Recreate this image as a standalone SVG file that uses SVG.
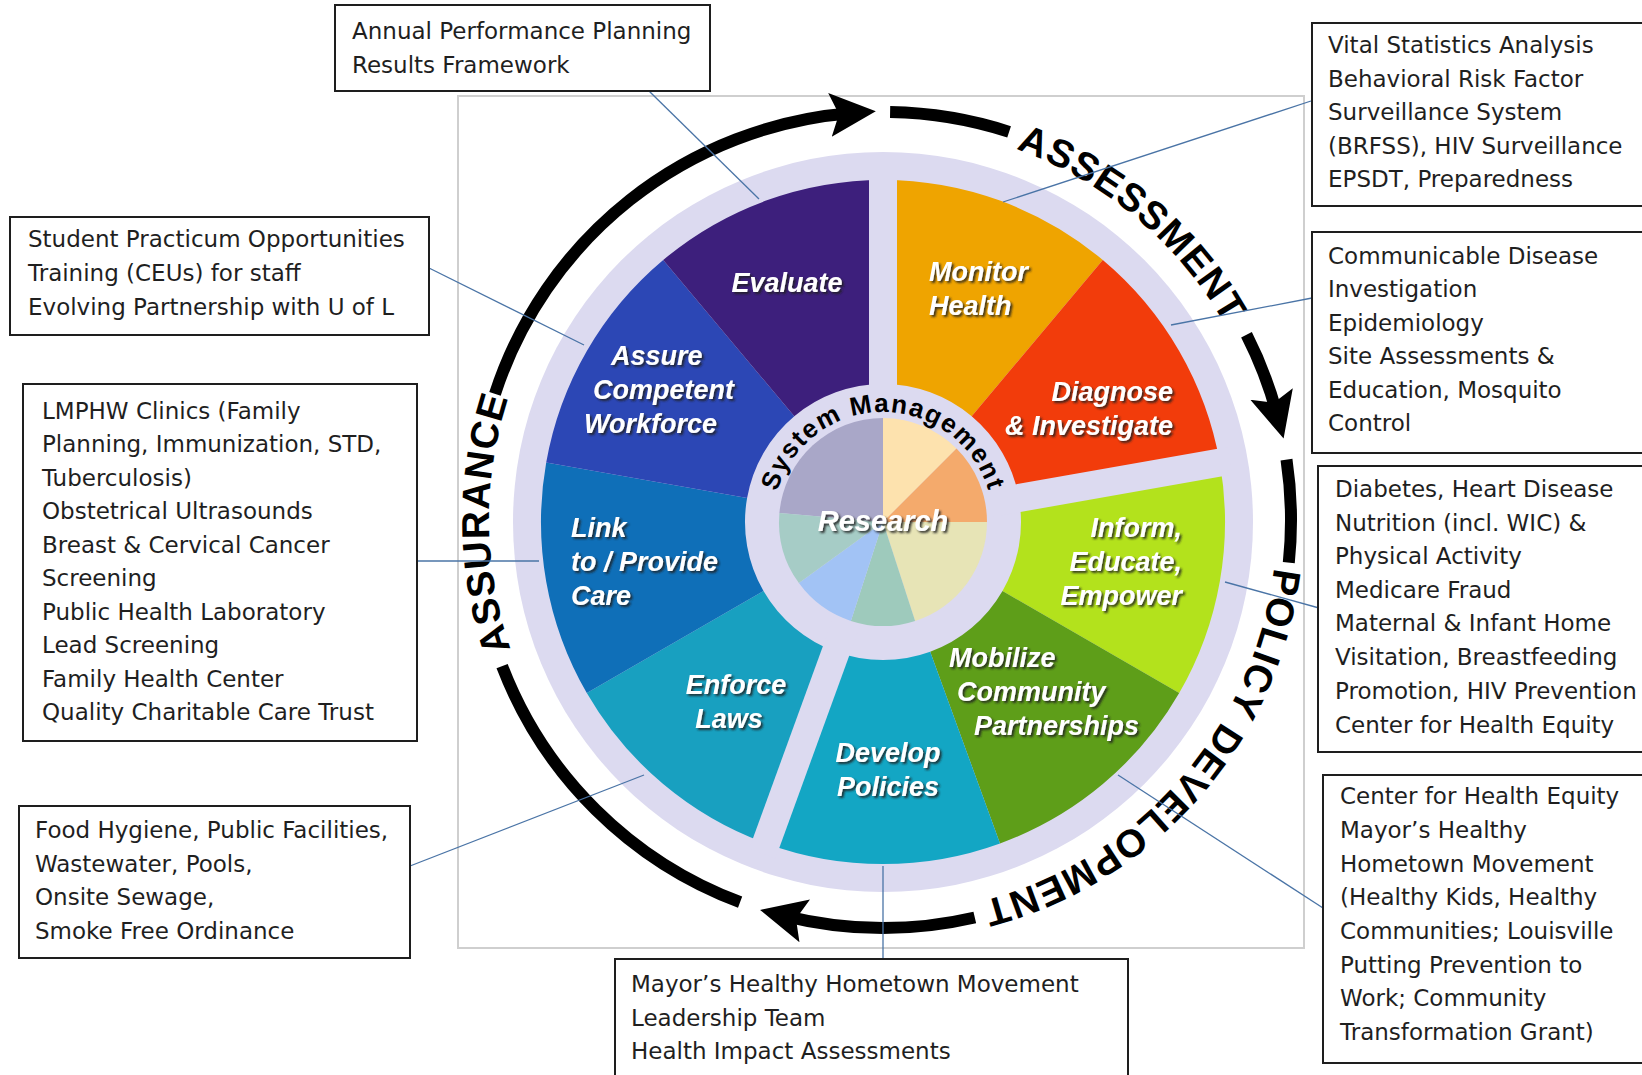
<svg xmlns="http://www.w3.org/2000/svg" width="1642" height="1075" viewBox="0 0 1642 1075">
<defs>
<style>
.box{fill:#fff;stroke:#1e1e1e;stroke-width:2}
.bt{font-family:"DejaVu Sans","Liberation Sans",sans-serif;font-size:23px;fill:#1f1f1f}
.wl{font-family:"Liberation Sans",Arial,sans-serif;font-weight:bold;font-style:italic;font-size:27px;fill:#fff}
.ring{font-family:"Liberation Sans",Arial,sans-serif;font-weight:bold;font-size:39px;fill:#000;letter-spacing:1px}
.arc{fill:none;stroke:#000;stroke-width:12}
.conn{stroke:#4a74a6;stroke-width:1.3;fill:none}
.gap{stroke:#dcdaf0;stroke-width:28}
</style>
<filter id="sh" x="-5%" y="-5%" width="110%" height="110%"><feDropShadow dx="2" dy="2" stdDeviation="0.8" flood-color="#1a1a1a" flood-opacity="0.85"/></filter>
<marker id="ah" markerUnits="userSpaceOnUse" markerWidth="50" markerHeight="48" refX="20" refY="22" orient="auto"><path d="M0,0 L46,22 L0,44 L9,22 Z" fill="#000"/></marker>
<path id="pAss" d="M985,139.4 A394,394 0 0 1 1240.1,353.5"/>
<path id="pPol" d="M1277,520 A394,394 0 0 1 924.2,911.8"/>
<path id="pAsr" d="M538.4,711 A394,394 0 0 1 535.1,335"/>
<path id="pSys" d="M773,522 A110,110 0 0 1 993,522"/>
</defs>
<rect x="0" y="0" width="1642" height="1075" fill="#fff"/>
<rect id="frame" x="458" y="96" width="846" height="852" fill="none" stroke="#cfcfcf" stroke-width="2"/>

<g id="wheel">
<circle cx="883" cy="522" r="370" fill="#dcdaf0"/>
<g id="monitor-health"><path d="M883,180 A342,342 0 0 1 1102.8,260 L971.7,416.3 A138,138 0 0 0 883,384 Z" fill="#efa400"/></g>
<g id="diagnose"><path d="M1102.8,260 A342,342 0 0 1 1219.8,462.6 L1018.9,498 A138,138 0 0 0 971.7,416.3 Z" fill="#f23c0b"/></g>
<g id="inform"><path d="M1219.8,462.6 A342,342 0 0 1 1179.2,693 L1002.5,591 A138,138 0 0 0 1018.9,498 Z" fill="#b3e21c"/></g>
<g id="mobilize"><path d="M1179.2,693 A342,342 0 0 1 1000,843.4 L930.2,651.7 A138,138 0 0 0 1002.5,591 Z" fill="#5e9e19"/></g>
<g id="develop"><path d="M1000,843.4 A342,342 0 0 1 766,843.4 L835.8,651.7 A138,138 0 0 0 930.2,651.7 Z" fill="#13a6c4"/></g>
<g id="enforce"><path d="M766,843.4 A342,342 0 0 1 586.8,693 L763.5,591 A138,138 0 0 0 835.8,651.7 Z" fill="#18a0c0"/></g>
<g id="link"><path d="M586.8,693 A342,342 0 0 1 546.2,462.6 L747.1,498 A138,138 0 0 0 763.5,591 Z" fill="#0f6fb8"/></g>
<g id="assure"><path d="M546.2,462.6 A342,342 0 0 1 663.2,260 L794.3,416.3 A138,138 0 0 0 747.1,498 Z" fill="#2c47b5"/></g>
<g id="evaluate"><path d="M663.2,260 A342,342 0 0 1 883,180 L883,384 A138,138 0 0 0 794.3,416.3 Z" fill="#3d1f7c"/></g>
<line class="gap" x1="883" y1="522" x2="883" y2="165"/>
<line class="gap" x1="883" y1="522" x2="1230" y2="460.8"/>
<line class="gap" x1="883" y1="522" x2="762.3" y2="853.6"/>
</g>

<g id="research">
<path d="M883,522 L779.4,512.9 A104,104 0 0 1 883,418 Z" fill="#a9a7c8"/>
<path d="M883,522 L883,418 A104,104 0 0 1 956.5,448.5 Z" fill="#fde2ae"/>
<path d="M883,522 L956.5,448.5 A104,104 0 0 1 987,522 Z" fill="#f4aa6c"/>
<path d="M883,522 L987,522 A104,104 0 0 1 915.1,620.9 Z" fill="#e7e4b6"/>
<path d="M883,522 L915.1,620.9 A104,104 0 0 1 850.9,620.9 Z" fill="#9ecabc"/>
<path d="M883,522 L850.9,620.9 A104,104 0 0 1 798.9,583.1 Z" fill="#a2c3f5"/>
<path d="M883,522 L798.9,583.1 A104,104 0 0 1 779.4,512.9 Z" fill="#a6ccc6"/>
<g filter="url(#sh)"><text class="wl" x="883" y="531" text-anchor="middle" style="font-size:29px">Research</text></g>
</g>

<g id="system-management">
<text font-family="Liberation Sans, Arial, sans-serif" font-weight="bold" font-size="26" letter-spacing="1.5" fill="#000"><textPath href="#pSys" startOffset="50%" text-anchor="middle">System Management</textPath></text>
</g>

<g id="wedge-labels" filter="url(#sh)">
<text class="wl" x="787" y="292" text-anchor="middle">Evaluate</text>
<text class="wl"><tspan x="929" y="281">Monitor</tspan><tspan x="929" y="315">Health</tspan></text>
<text class="wl" text-anchor="end"><tspan x="1173" y="401">Diagnose</tspan><tspan x="1173" y="435">&amp; Investigate</tspan></text>
<text class="wl" text-anchor="end"><tspan x="1182" y="537">Inform,</tspan><tspan x="1182" y="571">Educate,</tspan><tspan x="1182" y="605">Empower</tspan></text>
<text class="wl"><tspan x="949" y="667">Mobilize</tspan><tspan x="957" y="701">Community</tspan><tspan x="974" y="735">Partnerships</tspan></text>
<text class="wl" text-anchor="middle"><tspan x="888" y="762">Develop</tspan><tspan x="888" y="796">Policies</tspan></text>
<text class="wl" text-anchor="middle"><tspan x="736" y="694">Enforce</tspan><tspan x="729" y="728">Laws</tspan></text>
<text class="wl"><tspan x="571" y="537">Link</tspan><tspan x="571" y="571">to / Provide</tspan><tspan x="571" y="605">Care</tspan></text>
<text class="wl"><tspan x="611" y="365">Assure</tspan><tspan x="593" y="399">Competent</tspan><tspan x="584" y="433">Workforce</tspan></text>
</g>

<g id="cycle">
<path class="arc" d="M495,393.9 A408,408 0 0 1 849.9,113.3" marker-end="url(#ah)"/>
<path class="arc" d="M890.1,112.1 A408,408 0 0 1 1009.1,131.9"/>
<path class="arc" d="M1246.5,334.8 A408,408 0 0 1 1276.8,413.4" marker-end="url(#ah)"/>
<path class="arc" d="M1286.5,459.7 A408,408 0 0 1 1288.8,562.6"/>
<path class="arc" d="M974.8,917.5 A408,408 0 0 1 785.3,916.1" marker-end="url(#ah)"/>
<path class="arc" d="M740.1,902.2 A408,408 0 0 1 502.1,666.2"/>
<text class="ring"><textPath href="#pAss" startOffset="50%" text-anchor="middle">ASSESSMENT</textPath></text>
<text class="ring"><textPath href="#pPol" startOffset="48">POLICY</textPath></text>
<text class="ring"><textPath href="#pPol" startOffset="211">DEVELOPMENT</textPath></text>
<text class="ring"><textPath href="#pAsr" startOffset="50%" text-anchor="middle">ASSURANCE</textPath></text>
</g>

<g id="connectors">
<line class="conn" x1="649" y1="91" x2="759" y2="199"/>
<line class="conn" x1="1311" y1="101" x2="1003" y2="202"/>
<line class="conn" x1="429" y1="268" x2="584" y2="345"/>
<line class="conn" x1="1312" y1="298" x2="1171" y2="325"/>
<line class="conn" x1="406" y1="561" x2="539" y2="561"/>
<line class="conn" x1="1319" y1="608" x2="1225" y2="582"/>
<line class="conn" x1="1323" y1="908" x2="1118" y2="775"/>
<line class="conn" x1="883" y1="959" x2="883" y2="866"/>
<line class="conn" x1="410" y1="866" x2="644" y2="775"/>
</g>

<g id="box-annual">
<rect class="box" x="335" y="5" width="375" height="86"/>
<text class="bt"><tspan x="352" y="39">Annual Performance Planning</tspan><tspan x="352" y="73">Results Framework</tspan></text>
</g>
<g id="box-vital">
<rect class="box" x="1312" y="23" width="340" height="183"/>
<text class="bt"><tspan x="1328" y="53">Vital Statistics Analysis</tspan><tspan x="1328" y="87">Behavioral Risk Factor</tspan><tspan x="1328" y="120">Surveillance System</tspan><tspan x="1328" y="154">(BRFSS), HIV Surveillance</tspan><tspan x="1328" y="187">EPSDT, Preparedness</tspan></text>
</g>
<g id="box-communicable">
<rect class="box" x="1312" y="232" width="340" height="221"/>
<text class="bt"><tspan x="1328" y="264">Communicable Disease</tspan><tspan x="1328" y="297">Investigation</tspan><tspan x="1328" y="331">Epidemiology</tspan><tspan x="1328" y="364">Site Assessments &amp;</tspan><tspan x="1328" y="398">Education, Mosquito</tspan><tspan x="1328" y="431">Control</tspan></text>
</g>
<g id="box-student">
<rect class="box" x="10" y="217" width="419" height="118"/>
<text class="bt"><tspan x="28" y="247">Student Practicum Opportunities</tspan><tspan x="28" y="281">Training (CEUs) for staff</tspan><tspan x="28" y="315">Evolving Partnership with U of L</tspan></text>
</g>
<g id="box-clinics">
<rect class="box" x="23" y="384" width="394" height="357"/>
<text class="bt"><tspan x="42" y="419">LMPHW Clinics (Family</tspan><tspan x="42" y="452">Planning, Immunization, STD,</tspan><tspan x="42" y="486">Tuberculosis)</tspan><tspan x="42" y="519">Obstetrical Ultrasounds</tspan><tspan x="42" y="553">Breast &amp; Cervical Cancer</tspan><tspan x="42" y="586">Screening</tspan><tspan x="42" y="620">Public Health Laboratory</tspan><tspan x="42" y="653">Lead Screening</tspan><tspan x="42" y="687">Family Health Center</tspan><tspan x="42" y="720">Quality Charitable Care Trust</tspan></text>
</g>
<g id="box-food">
<rect class="box" x="19" y="806" width="391" height="152"/>
<text class="bt"><tspan x="35" y="838">Food Hygiene, Public Facilities,</tspan><tspan x="35" y="872">Wastewater, Pools,</tspan><tspan x="35" y="905">Onsite Sewage,</tspan><tspan x="35" y="939">Smoke Free Ordinance</tspan></text>
</g>
<g id="box-mayor">
<rect class="box" x="615" y="959" width="513" height="130"/>
<text class="bt"><tspan x="631" y="992">Mayor’s Healthy Hometown Movement</tspan><tspan x="631" y="1026">Leadership Team</tspan><tspan x="631" y="1059">Health Impact Assessments</tspan></text>
</g>
<g id="box-diabetes">
<rect class="box" x="1318" y="466" width="340" height="286"/>
<text class="bt"><tspan x="1335" y="497">Diabetes, Heart Disease</tspan><tspan x="1335" y="531">Nutrition (incl. WIC) &amp;</tspan><tspan x="1335" y="564">Physical Activity</tspan><tspan x="1335" y="598">Medicare Fraud</tspan><tspan x="1335" y="631">Maternal &amp; Infant Home</tspan><tspan x="1335" y="665">Visitation, Breastfeeding</tspan><tspan x="1335" y="699">Promotion, HIV Prevention</tspan><tspan x="1335" y="733">Center for Health Equity</tspan></text>
</g>
<g id="box-equity">
<rect class="box" x="1323" y="775" width="330" height="288"/>
<text class="bt"><tspan x="1340" y="804">Center for Health Equity</tspan><tspan x="1340" y="838">Mayor’s Healthy</tspan><tspan x="1340" y="872">Hometown Movement</tspan><tspan x="1340" y="905">(Healthy Kids, Healthy</tspan><tspan x="1340" y="939">Communities; Louisville</tspan><tspan x="1340" y="973">Putting Prevention to</tspan><tspan x="1340" y="1006">Work; Community</tspan><tspan x="1340" y="1040">Transformation Grant)</tspan></text>
</g>
</svg>
